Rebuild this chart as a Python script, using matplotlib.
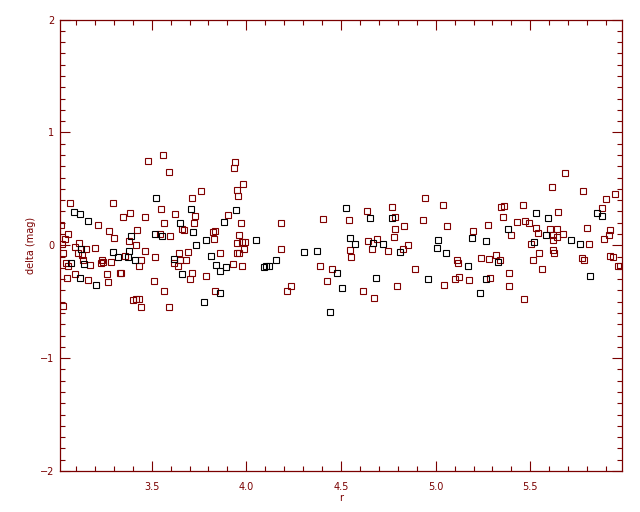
import matplotlib
matplotlib.use("Agg")
import matplotlib.pyplot as plt
from matplotlib.ticker import MultipleLocator

# ---- data (r, delta) ----
red_r = [3.482, 3.561, 3.593, 3.942, 3.936, 3.984, 3.952, 3.957, 3.762, 3.715,
         3.070, 3.297, 3.387, 3.350, 3.551, 3.625, 3.466, 3.730, 3.905, 3.218,
         3.567, 3.725, 3.973, 3.021, 3.276, 3.424, 3.662, 3.672, 3.825, 3.836,
         3.060, 3.303, 3.546, 3.598, 3.963, 3.044, 3.382, 3.831, 3.025, 3.118,
         3.419, 3.952, 3.979, 3.995, 3.097, 3.202, 3.155, 3.989, 3.033, 3.113,
         3.134, 3.466, 3.646, 3.694, 3.862, 3.952, 3.963, 3.139, 3.239, 3.234,
         3.245, 3.287, 3.361, 3.445, 3.519, 3.620, 3.651, 3.683, 3.049, 3.060,
         3.176, 3.435, 3.641, 3.931, 3.979, 3.266, 3.334, 3.340, 3.715, 3.704,
         3.788, 3.097, 3.055, 3.165, 3.271, 3.514, 3.567, 3.836, 3.403, 3.419,
         3.435, 3.445, 3.593, 3.033,
         4.184, 4.184, 4.216, 4.237, 4.390, 4.406,
         4.427, 4.454, 4.554, 4.617, 4.675, 4.797, 4.892, 5.045, 5.103, 5.124,
         5.114, 5.119, 5.177, 5.240, 5.288, 5.283, 5.341, 5.320, 5.388, 5.388,
         5.467, 5.515, 5.547, 5.563, 5.621, 5.626, 5.774, 5.784, 5.922, 5.937,
         5.964, 5.974,
         4.639, 4.771, 4.945, 5.040, 4.544, 4.786, 4.786, 4.834, 4.934, 5.061,
         4.644, 4.692, 4.781, 4.549, 4.665, 4.749, 4.829, 4.855,
         5.684, 5.616, 5.780, 5.949, 5.897, 5.876, 5.347, 5.362, 5.462, 5.647,
         5.357, 5.431, 5.473, 5.494, 5.277, 5.198, 5.399, 5.531, 5.542, 5.605,
         5.642, 5.621, 5.642, 5.674, 5.801, 5.922, 5.916, 5.890, 5.505, 5.621,
         5.811]
red_delta = [0.750, 0.803, 0.652, 0.741, 0.681, 0.546, 0.493, 0.440, 0.484, 0.422,
             0.378, 0.378, 0.289, 0.254, 0.325, 0.281, 0.254, 0.263, 0.272, 0.183,
             0.201, 0.201, 0.201, 0.183, 0.130, 0.139, 0.148, 0.139, 0.121, 0.130,
             0.104, 0.068, 0.104, 0.086, 0.095, 0.059, 0.042, 0.059, 0.015, 0.024,
             0.006, 0.024, 0.033, 0.033, -0.012, -0.020, -0.029, -0.029, -0.065, -0.073,
             -0.082, -0.047, -0.065, -0.056, -0.065, -0.065, -0.065, -0.127, -0.127, -0.153,
             -0.144, -0.144, -0.091, -0.135, -0.100, -0.153, -0.135, -0.135, -0.153, -0.180,
             -0.171, -0.180, -0.188, -0.162, -0.180, -0.259, -0.250, -0.250, -0.250, -0.295,
             -0.268, -0.259, -0.286, -0.304, -0.330, -0.321, -0.401, -0.401, -0.481, -0.472,
             -0.472, -0.551, -0.551, -0.542,
             0.201, -0.029, -0.401, -0.365, -0.188, 0.236,
             -0.321, -0.206, -0.100, -0.401, -0.463, -0.365, -0.206, -0.348, -0.295, -0.277,
             -0.127, -0.153, -0.304, -0.109, -0.286, -0.118, -0.127, -0.082, -0.242, -0.365,
             -0.472, -0.135, -0.065, -0.206, -0.038, -0.073, -0.109, -0.135, -0.091, -0.100,
             -0.188, -0.188,
             0.307, 0.342, 0.422, 0.360, 0.227, 0.254, 0.148, 0.174, 0.227, 0.174,
             0.042, 0.059, 0.077, -0.038, -0.029, -0.047, -0.029, 0.006,
             0.643, 0.519, 0.484, 0.458, 0.413, 0.334, 0.342, 0.351, 0.360, 0.298,
             0.254, 0.210, 0.219, 0.201, 0.183, 0.130, 0.095, 0.157, 0.112, 0.148,
             0.148, 0.095, 0.077, 0.104, 0.157, 0.139, 0.095, 0.059, 0.015, 0.050,
             0.015]

black_r = [3.524, 3.092, 3.123, 3.709, 3.947, 3.165, 3.651, 3.884, 3.720, 3.392,
           3.519, 3.556, 3.788, 4.053, 3.128, 3.736, 3.297, 3.382, 3.324, 3.377,
           3.414, 3.620, 3.815, 3.076, 3.144, 3.842, 3.894, 3.862, 3.662, 3.123,
           3.208, 3.862, 3.778,
           4.306, 4.375, 4.095, 4.105, 4.121, 4.158,
           4.480, 4.443, 4.506, 4.686, 4.961, 5.056, 5.172, 5.235, 5.267, 5.330,
           5.816,
           4.528, 4.655, 4.771, 4.549, 4.575, 4.671, 4.723, 5.013, 4.813, 5.008,
           5.850, 5.881, 5.531, 5.594, 5.193, 5.383, 5.584, 5.267, 5.521, 5.716,
           5.764]
black_delta = [0.422, 0.298, 0.281, 0.325, 0.316, 0.219, 0.201, 0.210, 0.121, 0.086,
               0.104, 0.086, 0.050, 0.050, -0.029, 0.006, -0.056, -0.047, -0.100, -0.100,
               -0.127, -0.118, -0.091, -0.153, -0.162, -0.171, -0.197, -0.224, -0.259, -0.286,
               -0.348, -0.427, -0.507,
               -0.056, -0.047, -0.197, -0.180, -0.180, -0.127,
               -0.250, -0.587, -0.383, -0.286, -0.295, -0.065, -0.180, -0.427, -0.295, -0.144,
               -0.268,
               0.334, 0.245, 0.245, 0.068, 0.015, 0.024, 0.015, 0.050, -0.056, -0.020,
               0.289, 0.263, 0.289, 0.245, 0.068, 0.148, 0.095, 0.042, 0.033, 0.050,
               0.015]

x_ticks = [3.5, 4.0, 4.5, 5.0, 5.5]
x_ticklabels = ["3.5", "4.0", "4.5", "5.0", "5.5"]
y_ticks = [-2, -1, 0, 1, 2]
y_ticklabels = ["\u22122", "\u22121", "0", "1", "2"]
x_label = "r"
y_label = "delta (mag)"

AX = "#7a0000"
RED = "#800000"

fig = plt.figure(figsize=(6.4, 5.12), dpi=100)
ax = fig.add_axes([60 / 640, 41 / 512, 562 / 640, 451.5 / 512])

ms = 4.4
mew = 0.8
ax.plot(red_r, red_delta, linestyle="none", marker="s", ms=ms, mew=mew,
        mfc="none", mec=RED)
ax.plot(black_r, black_delta, linestyle="none", marker="s", ms=ms, mew=mew,
        mfc="none", mec="black")

ax.set_xlim(3.016, 5.984)
ax.set_ylim(-2, 2)
ax.set_xticks(x_ticks)
ax.set_xticklabels(x_ticklabels)
ax.set_yticks(y_ticks)
ax.set_yticklabels(y_ticklabels)
ax.xaxis.set_minor_locator(MultipleLocator(0.1))
ax.yaxis.set_minor_locator(MultipleLocator(0.1))

for s in ax.spines.values():
    s.set_color(AX)
    s.set_linewidth(0.9)

ax.tick_params(which="both", direction="in", top=True, right=True,
               color=AX, width=0.8, labelcolor=AX, labelsize=7)
ax.tick_params(which="major", length=7.5)
ax.tick_params(which="minor", length=3.6)
ax.tick_params(axis="x", which="major", pad=8)
ax.tick_params(axis="y", which="major", pad=4)

ax.set_xlabel(x_label, color=AX, fontsize=7, labelpad=0.5)
ax.set_ylabel(y_label, color=AX, fontsize=7, labelpad=3)

fig.savefig("out.png", dpi=100)
